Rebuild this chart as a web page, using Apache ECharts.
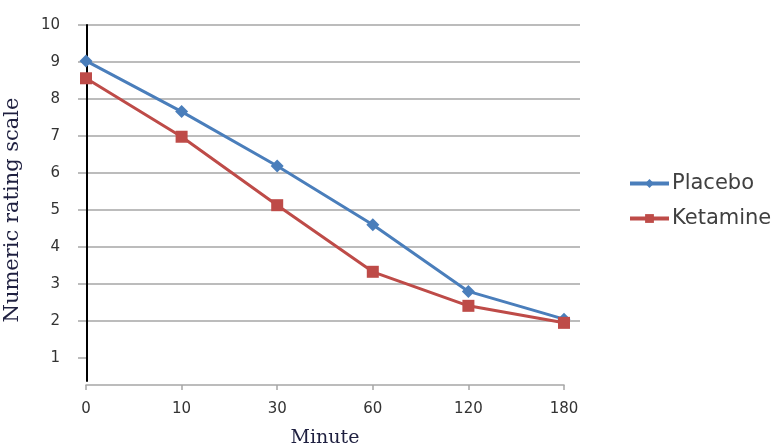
<!DOCTYPE html>
<html>
<head>
<meta charset="utf-8">
<script src="https://cdn.jsdelivr.net/npm/echarts@6/dist/echarts.min.js"></script>
<style>
  html, body { margin: 0; padding: 0; background: #ffffff; }
  #chart { width: 774px; height: 445px; }
</style>
</head>
<body>
<div id="chart"></div>
<script>
// data
const minutes = ['0', '10', '30', '60', '120', '180'];
const placebo = [9.03, 7.66, 6.19, 4.6, 2.8, 2.05];
const ketamine = [8.56, 6.98, 5.13, 3.33, 2.41, 1.95];
const yTicks = [1, 2, 3, 4, 5, 6, 7, 8, 9, 10];

const chart = echarts.init(document.getElementById('chart'));

const gray = '#a6a6a6';
const sans = 'DejaVu Sans';
const serif = 'DejaVu Serif';

const option = {
  animation: false,
  grid: [
    // gridlines + y labels (wider than the data area)
    { left: 86, right: 194, top: 25, bottom: 50, outerBoundsMode: 'none' },
    // data area
    { left: 86, right: 210, top: 25, bottom: 50, outerBoundsMode: 'none' },
    // black y axis line, stops short of the x axis
    { left: 87, right: 686, top: 25, bottom: 64, outerBoundsMode: 'none' }
  ],
  legend: {
    orient: 'vertical',
    left: 623,
    top: 168,
    itemWidth: 39,
    itemHeight: 11,
    itemGap: 14,
    lineStyle: { width: 4 },
    textStyle: { fontFamily: sans, fontSize: 21, color: '#404040', padding: [0, 0, 0, -2] },
    data: ['Placebo', 'Ketamine']
  },
  xAxis: [
    { gridIndex: 0, type: 'value', min: 0, max: 1, show: false },
    {
      gridIndex: 1,
      type: 'category',
      data: minutes,
      boundaryGap: false,
      offset: -10,
      name: 'Minute',
      nameLocation: 'middle',
      nameGap: 44,
      nameTextStyle: { fontFamily: serif, fontSize: 19, color: '#1f2040' },
      axisLine: { lineStyle: { color: gray, width: 1.5 } },
      axisTick: { show: true, length: 5, lineStyle: { color: gray, width: 1.5 } },
      axisLabel: { margin: 17, fontFamily: sans, fontSize: 15, color: '#333333' },
      splitLine: { show: false }
    },
    { gridIndex: 2, type: 'value', min: 0, max: 1, show: false }
  ],
  yAxis: [
    {
      gridIndex: 0,
      type: 'value',
      min: 0,
      max: 10,
      interval: 1,
      name: 'Numeric rating scale',
      nameLocation: 'middle',
      nameRotate: 90,
      nameGap: 63,
      nameTextStyle: { fontFamily: serif, fontSize: 21, color: '#1f2040' },
      axisLine: { show: false },
      axisTick: { show: true, length: 8, customValues: yTicks, lineStyle: { color: gray, width: 1.5 } },
      axisLabel: { margin: 26, fontFamily: sans, fontSize: 15, color: '#333333', customValues: yTicks },
      splitLine: { show: true, showMinLine: false, lineStyle: { color: gray, width: 1.5 } }
    },
    { gridIndex: 1, type: 'value', min: 0, max: 10, show: false },
    {
      gridIndex: 2,
      type: 'value',
      min: 0,
      max: 1,
      axisLine: { show: true, lineStyle: { color: '#000000', width: 2 } },
      axisTick: { show: false },
      axisLabel: { show: false },
      splitLine: { show: false }
    }
  ],
  series: [
    {
      name: 'Placebo',
      type: 'line',
      xAxisIndex: 1,
      yAxisIndex: 1,
      data: placebo,
      symbol: 'diamond',
      symbolSize: 13,
      lineStyle: { width: 3, color: '#4a7ebb' },
      itemStyle: { color: '#4a7ebb' }
    },
    {
      name: 'Ketamine',
      type: 'line',
      xAxisIndex: 1,
      yAxisIndex: 1,
      data: ketamine,
      symbol: 'rect',
      symbolSize: 12,
      lineStyle: { width: 3, color: '#be4b48' },
      itemStyle: { color: '#be4b48' }
    }
  ]
};

chart.setOption(option);
</script>
</body>
</html>
